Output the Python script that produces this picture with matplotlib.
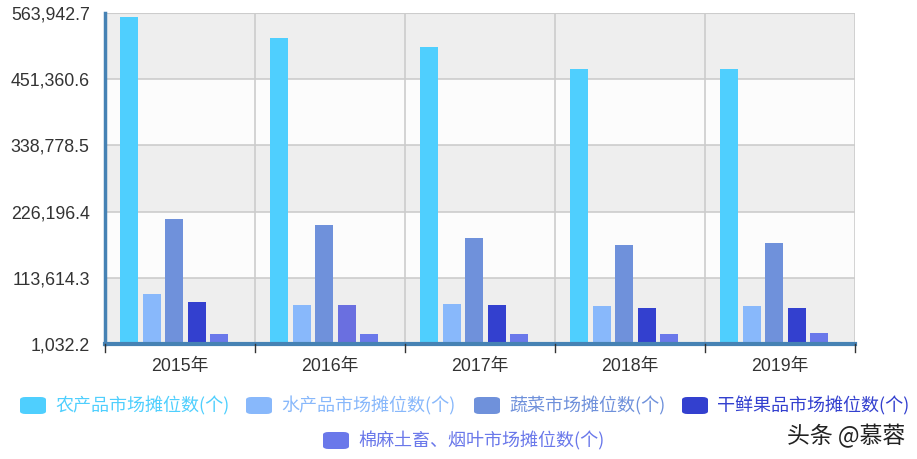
import matplotlib
matplotlib.use("Agg")
import matplotlib.pyplot as plt
from matplotlib.patches import FancyBboxPatch
import numpy as np

plt.rcParams['font.family'] = ['Liberation Sans', 'Noto Sans CJK SC', 'DejaVu Sans']

years = ["2015年", "2016年", "2017年", "2018年", "2019年"]
series_names = ["农产品市场摊位数(个)", "水产品市场摊位数(个)", "蔬菜市场摊位数(个)",
                "干鲜果品市场摊位数(个)", "棉麻土畜、烟叶市场摊位数(个)"]
agri = [557000, 521400, 506100, 468700, 468700]
aquatic = [86000, 67400, 69000, 65700, 65700]
vegetable = [213600, 203400, 181300, 169400, 172800]
fruit = [72500, 67400, 67400, 62300, 62300]
cotton = [18000, 18000, 18000, 18000, 19000]
yticks = [1032.2, 113614.3, 226196.4, 338778.5, 451360.6, 563942.7]

colors = ["#4fcffe", "#88b8fb", "#6f91db", "#3340cf", "#6a78ea"]
values = [agri, aquatic, vegetable, fruit, cotton]

W, H = 917, 459
fig = plt.figure(figsize=(W / 100, H / 100), dpi=100)
L, R, T, B = 105, 855, 13, 344
ax = fig.add_axes([L / W, 1 - B / H, (R - L) / W, (B - T) / H])

ymin, ymax = yticks[0], yticks[-1]
ax.set_ylim(ymin, ymax)
ax.set_xlim(-0.5, len(years) - 0.5)

# alternating background bands
band_cols = ["#eeeeee", "#fcfcfc"]
for i in range(len(yticks) - 1):
    ax.axhspan(yticks[i], yticks[i + 1], color=band_cols[i % 2], zorder=0, lw=0)
for yv in yticks[1:]:
    ax.axhline(yv, color="#cccccc", lw=1.2, zorder=1)
for k in range(len(years) + 1):
    ax.axvline(k - 0.5, color="#cccccc", lw=1.2, zorder=1)

x = np.arange(len(years))
spacing = 0.15
width = 0.12
shift = -0.04
for i, (vals, c) in enumerate(zip(values, colors)):
    cols = [c] * len(years)
    if i == 3:
        cols[1] = "#6a6fe0"
    ax.bar(x + shift + (i - 2) * spacing, np.array(vals) - ymin, width, bottom=ymin,
           color=cols, zorder=2, lw=0)

ax.set_yticks(yticks)
ax.set_yticklabels([f"{v:,.1f}" for v in yticks], fontsize=12.8, color="#333333")
ax.set_xticks(x)
ax.set_xticklabels(years, fontsize=12.8, color="#333333")
ax.tick_params(axis="y", length=0, pad=11)
ax.tick_params(axis="x", length=0, pad=10)
# category boundary ticks
for k in range(len(years) + 1):
    ax.plot([k - 0.5, k - 0.5], [0, -0.025], transform=ax.get_xaxis_transform(),
            color="#333333", lw=1, clip_on=False, zorder=5)

for s in ["top", "right"]:
    ax.spines[s].set_visible(False)
ax.spines["left"].set_color("#4682b4")
ax.spines["left"].set_linewidth(2.5)
ax.spines["bottom"].set_color("#4682b4")
ax.spines["bottom"].set_linewidth(3)
ax.spines["left"].set_zorder(4)
ax.spines["bottom"].set_zorder(4)
ax.axhline(ymax, color="#cccccc", lw=1.5, zorder=1)

# legend, manual
def legend_item(bx, by, color, text):
    bw, bh = 26, 17
    p = FancyBboxPatch((bx / W, 1 - (by + bh) / H), bw / W, bh / H,
                       boxstyle="round,pad=0,rounding_size=0.006",
                       transform=fig.transFigure, facecolor=color, edgecolor="none")
    fig.patches.append(p)
    fig.text((bx + bw + 9) / W, 1 - (by + bh / 2) / H, text, color=color,
             fontsize=13, va="center", ha="left",
             family=['Noto Sans CJK SC', 'DejaVu Sans'])

legend_item(20, 397, colors[0], series_names[0])
legend_item(246, 397, colors[1], series_names[1])
legend_item(474, 397, colors[2], series_names[2])
legend_item(682, 397, colors[3], series_names[3])
legend_item(323, 432, colors[4], series_names[4])

fig.text(905 / W, 1 - 436 / H, "头条 @慕蓉", color="#222222", fontsize=16.5,
         ha="right", va="center", family=['Noto Sans CJK SC', 'DejaVu Sans'])

fig.savefig("out.png", dpi=100, facecolor="white")
